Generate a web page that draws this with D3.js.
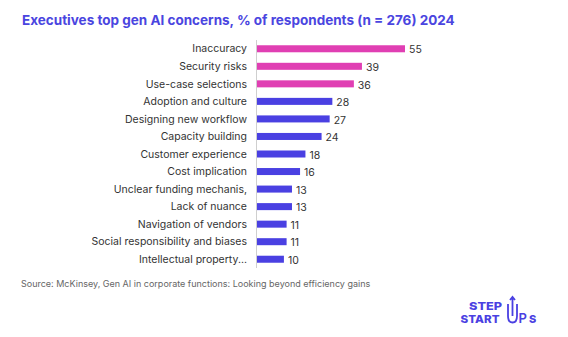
<!DOCTYPE html>
<html>
<head>
<meta charset="utf-8">
<script src="https://cdn.jsdelivr.net/npm/d3@7"></script>
<style>
  body { margin: 0; background: #fff; }
  svg text { font-family: Inter, "Open Sans", sans-serif; }
</style>
</head>
<body>
<div id="chart"></div>
<script>
// Chart data
const categories = [
    "Inaccuracy", "Security risks", "Use-case selections", "Adoption and culture",
    "Designing new workflow", "Capacity building", "Customer experience",
    "Cost implication", "Unclear funding mechanis,", "Lack of nuance",
    "Navigation of vendors", "Social responsibility and biases", "Intellectual property..."
];
const values = [55, 39, 36, 28, 27, 24, 18, 16, 13, 13, 11, 11, 10];
const highlighted = [true, true, true, false, false, false, false, false, false, false, false, false, false];

const width = 568, height = 337;
const pink = "#E03FB3", blue = "#4A40E2";

const svg = d3.select("#chart")
    .append("svg")
    .attr("width", width)
    .attr("height", height);

// Title
svg.append("text")
    .attr("x", 22)
    .attr("y", 25)
    .attr("fill", "#4A45E0")
    .attr("font-size", 13.5)
    .attr("font-weight", 700)
    .text("Executives top gen AI concerns, % of respondents (n = 276) 2024");

// Scales
const x = d3.scaleLinear().domain([0, 55]).range([257, 405]);
const y = d3.scaleBand().domain(categories).range([40, 268]).paddingInner(0.6).paddingOuter(0.3);

// Bars
svg.selectAll(".bar")
    .data(categories)
    .enter()
    .append("rect")
    .attr("class", "bar")
    .attr("x", x(0))
    .attr("y", d => y(d))
    .attr("width", (d, i) => x(values[i]) - x(0))
    .attr("height", y.bandwidth())
    .attr("fill", (d, i) => highlighted[i] ? pink : blue);

// Axis line
svg.append("line")
    .attr("x1", x(0) - 0.5).attr("x2", x(0) - 0.5)
    .attr("y1", 40).attr("y2", 268)
    .attr("stroke", "#cfcfcf")
    .attr("stroke-width", 1);

// Category labels
svg.selectAll(".label")
    .data(categories)
    .enter()
    .append("text")
    .attr("class", "label")
    .attr("x", x(0) - 10)
    .attr("y", d => y(d) + y.bandwidth() / 2)
    .attr("dy", "0.35em")
    .attr("text-anchor", "end")
    .attr("font-size", 10.5)
    .attr("fill", "#333")
    .text(d => d);

// Value labels
svg.selectAll(".value")
    .data(categories)
    .enter()
    .append("text")
    .attr("class", "value")
    .attr("x", (d, i) => x(values[i]) + 4)
    .attr("y", d => y(d) + y.bandwidth() / 2 + 1)
    .attr("dy", "0.35em")
    .attr("font-size", 10.5)
    .attr("fill", "#333")
    .text((d, i) => values[i]);

// Source
svg.append("text")
    .attr("x", 21)
    .attr("y", 287)
    .attr("font-size", 9)
    .attr("fill", "#666")
    .text("Source: McKinsey, Gen AI in corporate functions: Looking beyond efficiency gains");

// Logo
const logo = svg.append("g").attr("fill", blue).attr("font-weight", 800);
logo.append("text").attr("x", 469).attr("y", 309.5).attr("font-size", 10.5)
    .attr("textLength", 33).attr("lengthAdjust", "spacingAndGlyphs").text("STEP");
logo.append("text").attr("x", 460.5).attr("y", 322.5).attr("font-size", 10.5)
    .attr("textLength", 39).attr("lengthAdjust", "spacingAndGlyphs").text("START");
logo.append("path")
    .attr("d", "M508,304 L508,316 Q508,322.5 512.5,322.5 Q517,322.5 517,316 L517,304 M512.5,316 L512.5,297 M510,300 L512.5,297 L515,300")
    .attr("fill", "none")
    .attr("stroke", blue)
    .attr("stroke-width", 1.8);
logo.append("text").attr("x", 518.5).attr("y", 322.5).attr("font-size", 13).attr("font-weight", 600).text("P");
logo.append("text").attr("x", 529).attr("y", 322.5).attr("font-size", 11).text("S");
</script>
</body>
</html>
